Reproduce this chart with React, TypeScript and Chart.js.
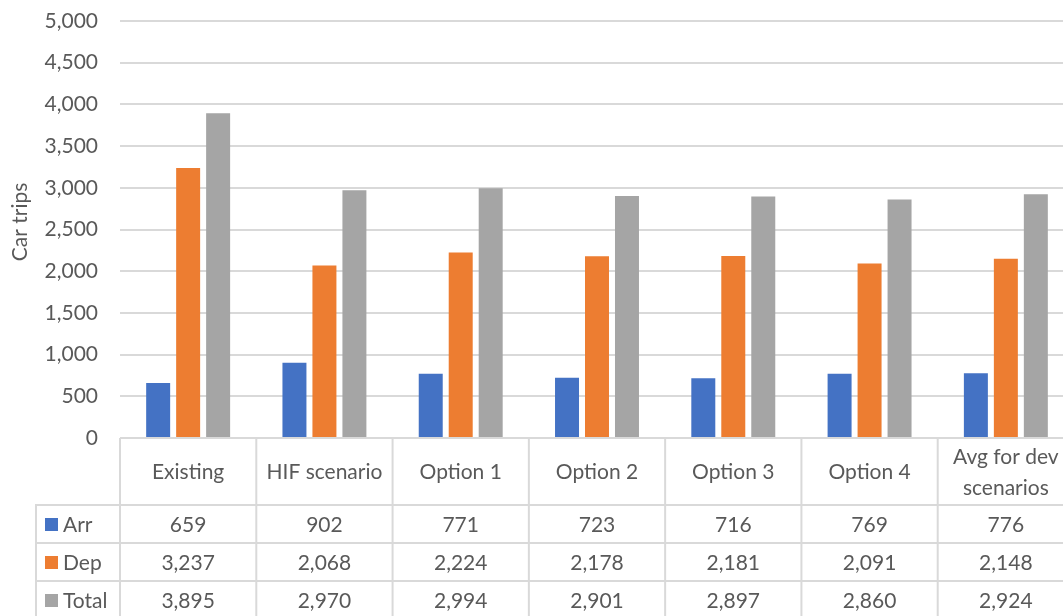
import React, { useEffect, useRef } from "react";
import { Chart, registerables } from "chart.js";

Chart.register(...registerables);

const categories = ["Existing", "HIF scenario", "Option 1", "Option 2", "Option 3", "Option 4", "Avg for dev scenarios"];
const categoryLines = [["Existing"], ["HIF scenario"], ["Option 1"], ["Option 2"], ["Option 3"], ["Option 4"], ["Avg for dev", "scenarios"]];
const arrValues = [659, 902, 771, 723, 716, 769, 776];
const depValues = [3237, 2068, 2224, 2178, 2181, 2091, 2148];
const totalValues = [3895, 2970, 2994, 2901, 2897, 2860, 2924];
const seriesNames = ["Arr", "Dep", "Total"];
const seriesColors = ["#4472C4", "#ED7D31", "#A5A5A5"];
const yTitle = "Car trips";
const yMin = 0;
const yMax = 5000;
const yStep = 500;

const FONT = "Lato, 'Open Sans', sans-serif";
const FS = 21;
const TEXT = "#595959";
const LINE = "#D9D9D9";

const fmt = (v: number) => v.toLocaleString("en-US");

const tablePlugin = {
  id: "dataTable",
  afterDraw(chart: any) {
    const ctx = chart.ctx as CanvasRenderingContext2D;
    const area = chart.chartArea;
    const xs = chart.scales.x;
    const n = categories.length;
    const cw = (area.right - area.left) / n;
    const headerBottom = area.bottom + 67;
    const rowH = 38;
    const legendLeft = 36;
    const bottom = chart.height;
    ctx.save();
    ctx.strokeStyle = LINE;
    ctx.lineWidth = 2;
    const hl = (y: number, x0: number) => {
      ctx.beginPath();
      ctx.moveTo(x0, y);
      ctx.lineTo(area.right, y);
      ctx.stroke();
    };
    hl(area.bottom, area.left);
    for (let r = 0; r < 4; r++) hl(headerBottom + r * rowH, legendLeft - 1);
    for (let i = 0; i <= n; i++) {
      const x = area.left + i * cw;
      ctx.beginPath();
      ctx.moveTo(x, area.bottom);
      ctx.lineTo(x, bottom);
      ctx.stroke();
    }
    ctx.beginPath();
    ctx.moveTo(legendLeft, headerBottom - 1);
    ctx.lineTo(legendLeft, bottom);
    ctx.stroke();

    ctx.fillStyle = TEXT;
    ctx.font = `${FS}px ${FONT}`;
    ctx.textAlign = "center";
    ctx.textBaseline = "middle";
    const headerMid = (area.bottom + headerBottom) / 2 + 1;
    categoryLines.forEach((lines, i) => {
      const cx = xs.getPixelForValue(i);
      const lh = 31;
      lines.forEach((t, k) => {
        const y = headerMid + (k - (lines.length - 1) / 2) * lh;
        ctx.fillText(t, cx, y);
      });
    });
    const rows = [arrValues, depValues, totalValues];
    rows.forEach((vals, r) => {
      const cy = headerBottom + r * rowH + rowH / 2 + 1;
      vals.forEach((v, i) => {
        ctx.fillText(fmt(v), xs.getPixelForValue(i), cy);
      });
      ctx.fillStyle = seriesColors[r];
      ctx.fillRect(45, cy - 7, 13, 13);
      ctx.fillStyle = TEXT;
      ctx.textAlign = "left";
      ctx.fillText(seriesNames[r], 63, cy);
      ctx.textAlign = "center";
    });

    ctx.save();
    ctx.font = `${FS}px ${FONT}`;
    ctx.translate(20, 222);
    ctx.rotate(-Math.PI / 2);
    ctx.textAlign = "center";
    ctx.textBaseline = "middle";
    ctx.fillText(yTitle, 0, 0);
    ctx.restore();
    ctx.restore();
  },
};

export default function App() {
  const ref = useRef<HTMLCanvasElement | null>(null);
  useEffect(() => {
    if (!ref.current) return;
    const chart = new Chart(ref.current, {
      type: "bar",
      data: {
        labels: categories,
        datasets: [
          { label: seriesNames[0], data: arrValues, backgroundColor: seriesColors[0] },
          { label: seriesNames[1], data: depValues, backgroundColor: seriesColors[1] },
          { label: seriesNames[2], data: totalValues, backgroundColor: seriesColors[2] },
        ],
      },
      options: {
        animation: false,
        responsive: true,
        maintainAspectRatio: false,
        layout: { padding: { left: 0, right: 6, top: 21, bottom: 0 } },
        datasets: { bar: { categoryPercentage: 0.66, barPercentage: 0.8 } },
        plugins: { legend: { display: false }, tooltip: { enabled: false } },
        scales: {
          x: {
            ticks: { display: false },
            grid: { display: false },
            border: { display: false },
            afterFit: (s: any) => { s.height = 178; },
          },
          y: {
            min: yMin,
            max: yMax,
            ticks: {
              stepSize: yStep,
              padding: 0,
              color: TEXT,
              font: { family: FONT, size: FS },
              callback: (v: any) => fmt(Number(v)),
            },
            grid: { color: LINE, lineWidth: 2, drawTicks: true, tickLength: 22, tickColor: "rgba(0,0,0,0)" },
            border: { display: false },
            afterFit: (s: any) => { s.width = 120; },
          },
        },
      },
      plugins: [tablePlugin],
    });
    return () => chart.destroy();
  }, []);
  return (
    <div style={{ position: "fixed", left: 0, top: 0, width: 1063, height: 616, overflow: "hidden", background: "#fff" }}>
      <div style={{ position: "relative", width: 1080, height: 616 }}>
        <canvas ref={ref} />
      </div>
    </div>
  );
}
